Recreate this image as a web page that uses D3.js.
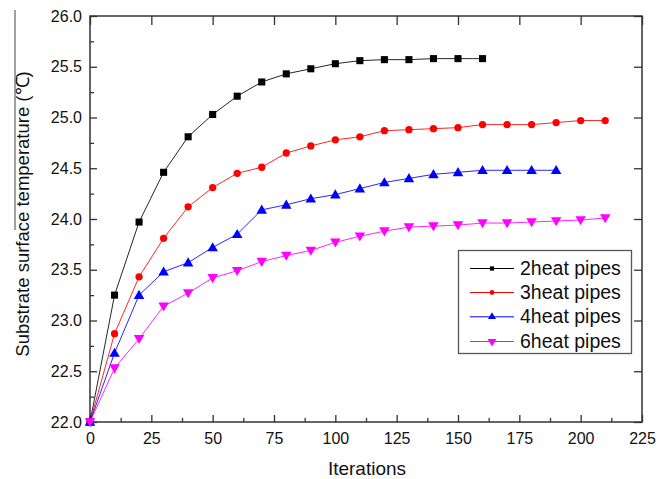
<!DOCTYPE html>
<html>
<head>
<meta charset="utf-8">
<script src="https://cdn.jsdelivr.net/npm/d3@7"></script>
<style>
  html, body { margin: 0; padding: 0; background: #fff; }
  svg { display: block; font-family: "Liberation Sans", Arial, sans-serif; }
</style>
</head>
<body>
<svg id="chart" width="667" height="479"></svg>
<script>
const iterations = [0,10,20,30,40,50,60,70,80,90,100,110,120,130,140,150,160,170,180,190,200,210];
const pipes2 = [22.0,23.25,23.97,24.46,24.81,25.03,25.21,25.35,25.43,25.48,25.53,25.56,25.57,25.57,25.58,25.58,25.58];
const pipes3 = [22.0,22.87,23.43,23.81,24.12,24.31,24.45,24.51,24.65,24.72,24.78,24.81,24.87,24.88,24.89,24.90,24.93,24.93,24.93,24.95,24.97,24.97];
const pipes4 = [22.0,22.68,23.25,23.48,23.57,23.72,23.85,24.09,24.14,24.20,24.24,24.30,24.36,24.40,24.44,24.46,24.48,24.48,24.48,24.48];
const pipes6 = [22.0,22.53,22.82,23.14,23.27,23.42,23.49,23.58,23.64,23.69,23.77,23.83,23.88,23.92,23.93,23.94,23.96,23.96,23.97,23.98,23.99,24.01];
const seriesNames = ["2heat pipes","3heat pipes","4heat pipes","6heat pipes"];
const xTicks = [0,25,50,75,100,125,150,175,200,225];
const yTicks = [22.0,22.5,23.0,23.5,24.0,24.5,25.0,25.5,26.0];

const colors = ["#000000","#ff0000","#0000ff","#ff00ff"];
const symbols = [d3.symbolSquare, d3.symbolCircle, d3.symbolTriangle, d3.symbolTriangle];
const rotations = [0,0,0,180];
const sizes = [50, 42, 48, 48];
const legendSizes = [18, 18, 28, 34];

const allSeries = [pipes2, pipes3, pipes4, pipes6].map((vals, i) => ({
  name: seriesNames[i],
  points: vals.map((v, j) => ({x: iterations[j], y: v}))
}));

const svg = d3.select("#chart");
const L = 90, R = 642, T = 16, B = 422;
const x = d3.scaleLinear().domain([0,225]).range([L,R]);
const y = d3.scaleLinear().domain([22,26]).range([B,T]);

const axisColor = "#333";
const fmt = d3.format(".1f");

const xMinor = xTicks.slice(0,-1).map(v => v + 12.5);
const yMinor = yTicks.slice(0,-1).map(v => v + 0.25);

function styleAxis(g) {
  g.select(".domain").remove();
  g.selectAll(".tick line").attr("stroke", axisColor).attr("stroke-width", 1.3);
  g.selectAll(".tick text").attr("fill", "#111").style("font-size", "16px").style("font-family", "'Liberation Sans', Arial, sans-serif");
}

svg.append("g").attr("transform", `translate(0,${B})`)
  .call(d3.axisBottom(x).tickValues(xTicks).tickFormat(d3.format("d")).tickSizeInner(-7).tickSizeOuter(0).tickPadding(11))
  .call(styleAxis);
svg.append("g").attr("transform", `translate(0,${B})`)
  .call(d3.axisBottom(x).tickValues(xMinor).tickFormat("").tickSizeInner(-4).tickSizeOuter(0))
  .call(styleAxis);
svg.append("g").attr("transform", `translate(${L},0)`)
  .call(d3.axisLeft(y).tickValues(yTicks).tickFormat(fmt).tickSizeInner(-7).tickSizeOuter(0).tickPadding(8))
  .call(styleAxis);
svg.append("g").attr("transform", `translate(${L},0)`)
  .call(d3.axisLeft(y).tickValues(yMinor).tickFormat("").tickSizeInner(-4).tickSizeOuter(0))
  .call(styleAxis);
svg.append("g").attr("transform", `translate(0,${T})`)
  .call(d3.axisTop(x).tickValues(xTicks).tickFormat("").tickSizeInner(-9).tickSizeOuter(0))
  .call(styleAxis);
svg.append("g").attr("transform", `translate(${R},0)`)
  .call(d3.axisRight(y).tickValues(yTicks).tickFormat("").tickSizeInner(-8).tickSizeOuter(0))
  .call(styleAxis);

svg.append("rect").attr("x", L).attr("y", T).attr("width", R-L).attr("height", B-T)
  .attr("fill", "none").attr("stroke", axisColor).attr("stroke-width", 1.5);

const line = d3.line().x(d => x(d.x)).y(d => y(d.y));
allSeries.forEach((s, i) => {
  svg.append("path").datum(s.points).attr("d", line)
    .attr("fill", "none").attr("stroke", colors[i]).attr("stroke-width", 1).attr("opacity", 0.85);
});
allSeries.forEach((s, i) => {
  svg.append("g").selectAll("path").data(s.points).join("path")
    .attr("d", d3.symbol().type(symbols[i]).size(sizes[i]))
    .attr("transform", d => `translate(${x(d.x)},${y(d.y) + (i===2 ? 0.8 : i===3 ? -0.8 : 0)}) rotate(${rotations[i]})`)
    .attr("fill", colors[i]);
});

svg.append("text").attr("x", 367).attr("y", 475).attr("text-anchor", "middle")
  .style("font-size", "19px").attr("fill", "#111").text("Iterations");
svg.append("text").attr("transform", `translate(29,214) rotate(-90)`).attr("text-anchor", "middle")
  .style("font-size", "18.5px").attr("fill", "#111").text("Substrate surface temperature (℃)");
svg.append("line").attr("x1", 15).attr("x2", 15).attr("y1", 10).attr("y2", 230)
  .attr("stroke", "#444").attr("stroke-width", 1);

const lg = svg.append("g");
lg.append("rect").attr("x", 458.5).attr("y", 250.5).attr("width", 173).attr("height", 103)
  .attr("fill", "#fff").attr("stroke", "#555").attr("stroke-width", 1.3);
const rowY = [268.5, 292.5, 316.8, 341.5];
seriesNames.forEach((name, i) => {
  lg.append("line").attr("x1", 470).attr("x2", 514).attr("y1", rowY[i]).attr("y2", rowY[i])
    .attr("stroke", colors[i]).attr("stroke-width", 1);
  lg.append("path").attr("d", d3.symbol().type(symbols[i]).size(legendSizes[i]))
    .attr("transform", `translate(492,${rowY[i]}) rotate(${rotations[i]})`).attr("fill", colors[i]);
  lg.append("text").attr("x", 520).attr("y", rowY[i] + 6.5).style("font-size", "19.5px")
    .attr("fill", "#111").text(name);
});
</script>
</body>
</html>
